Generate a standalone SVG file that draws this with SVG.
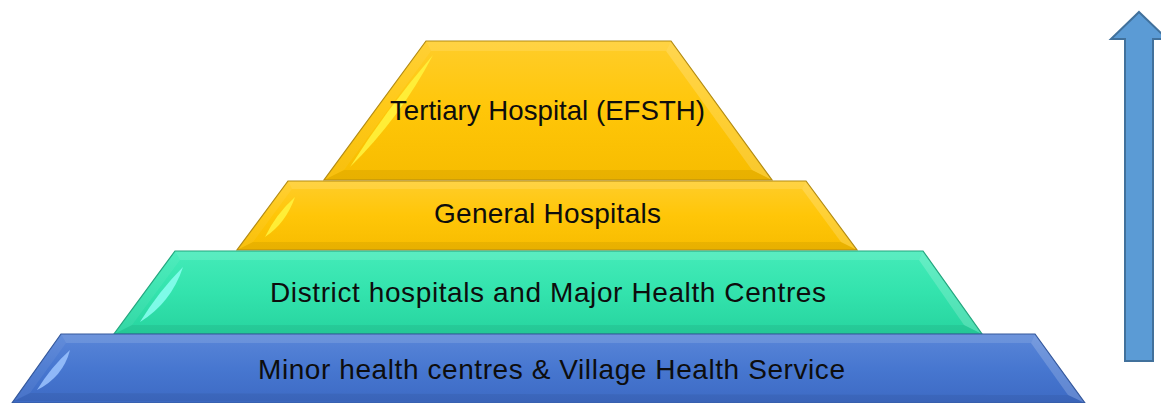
<svg xmlns="http://www.w3.org/2000/svg" width="1161" height="403" viewBox="0 0 1161 403">
  <defs>
    <linearGradient id="gold" x1="0" y1="0" x2="0" y2="1">
      <stop offset="0" stop-color="#FFCD2A"/>
      <stop offset="0.5" stop-color="#FFC608"/>
      <stop offset="1" stop-color="#F7BC00"/>
    </linearGradient>
    <linearGradient id="mint" x1="0" y1="0" x2="0" y2="1">
      <stop offset="0" stop-color="#44EBB9"/>
      <stop offset="0.5" stop-color="#33E3AD"/>
      <stop offset="1" stop-color="#27D49F"/>
    </linearGradient>
    <linearGradient id="cobalt" x1="0" y1="0" x2="0" y2="1">
      <stop offset="0" stop-color="#5A86D8"/>
      <stop offset="0.5" stop-color="#4777D0"/>
      <stop offset="1" stop-color="#3D6AC4"/>
    </linearGradient>
    <style>
      .label { font-family: "Liberation Sans", Arial, sans-serif; font-size: 28px; fill: #0d0d0d; text-anchor: middle; }
      .bev-top { fill: #ffffff; opacity: 0.12; }
      .bev-left { fill: #ffffff; opacity: 0.06; }
      .bev-right { fill: #ffffff; opacity: 0.18; }
      .bev-bottom { fill: #000000; opacity: 0.06; }
      .edge { fill: none; stroke-width: 1.2; stroke-linejoin: miter; }
      .gold-edge { stroke: #B38B12; }
      .mint-edge { stroke: #23A67E; }
      .cobalt-edge { stroke: #34589C; }
      .glint-gold { fill: #FFF23C; opacity: 0.9; }
      .glint-mint { fill: #8CFFF2; opacity: 0.85; }
      .glint-cobalt { fill: #9CC4FF; opacity: 0.85; }
      .arrow { fill: #5B9BD5; stroke: #41719C; stroke-width: 2; stroke-linejoin: miter; }
    </style>
  </defs>

  <!-- Level 4: tertiary hospital -->
  <g id="tier-tertiary">
    <polygon fill="url(#gold)" points="426,41 671,41 772,180 324,180"/>
    <polygon class="bev-top" points="426,41 671,41 666,51 431,51"/>
    <polygon class="bev-left" points="426,41 431,51 344,170 324,180"/>
    <polygon class="bev-right" points="671,41 772,180 752,170 666,51"/>
    <polygon class="bev-bottom" points="324,180 344,170 752,170 772,180"/>
    <path class="glint-gold" d="M433,55 Q400,118 350,167 Q386,110 433,55 Z"/>
    <polygon class="edge gold-edge" points="426,41 671,41 772,180 324,180"/>
    <text class="label" x="547.5" y="120" textLength="315" lengthAdjust="spacingAndGlyphs">Tertiary Hospital (EFSTH)</text>
  </g>

  <!-- Level 3: general hospitals -->
  <g id="tier-general">
    <polygon fill="url(#gold)" points="288,181 806,181 857,250 237,250"/>
    <polygon class="bev-top" points="288,181 806,181 802,189 292,189"/>
    <polygon class="bev-left" points="288,181 292,189 253,242 237,250"/>
    <polygon class="bev-right" points="806,181 857,250 841,242 802,189"/>
    <polygon class="bev-bottom" points="237,250 253,242 841,242 857,250"/>
    <path class="glint-gold" d="M295,197 Q286,223 265,237 Q276,214 295,197 Z"/>
    <polygon class="edge gold-edge" points="288,181 806,181 857,250 237,250"/>
    <text class="label" x="547.5" y="223" textLength="227" lengthAdjust="spacing">General Hospitals</text>
  </g>

  <!-- Level 2: district hospitals -->
  <g id="tier-district">
    <polygon fill="url(#mint)" points="175,251 923,251 982,334 114,334"/>
    <polygon class="bev-top" points="175,251 923,251 919,260 180,260"/>
    <polygon class="bev-left" points="175,251 180,260 132,325 114,334"/>
    <polygon class="bev-right" points="923,251 982,334 964,325 919,260"/>
    <polygon class="bev-bottom" points="114,334 132,325 964,325 982,334"/>
    <path class="glint-mint" d="M183,267 Q171,303 140,322 Q159,291 183,267 Z"/>
    <polygon class="edge mint-edge" points="175,251 923,251 982,334 114,334"/>
    <text class="label" x="548" y="302" textLength="556" lengthAdjust="spacing">District hospitals and Major Health Centres</text>
  </g>

  <!-- Level 1: minor health centres -->
  <g id="tier-minor">
    <polygon fill="url(#cobalt)" points="61,334 1035,334 1085,403 12,403"/>
    <polygon class="bev-top" points="61,334 1035,334 1031,343 66,343"/>
    <polygon class="bev-left" points="61,334 66,343 30,393 14,401"/>
    <polygon class="bev-right" points="1035,334 1085,403 1068,395 1031,343"/>
    <polygon class="bev-bottom" points="14,401 30,393 1068,395 1085,403"/>
    <path class="glint-cobalt" d="M70,350 Q63,377 37,390 Q51,367 70,350 Z"/>
    <polygon class="edge cobalt-edge" points="61,334 1035,334 1085,403 12,403"/>
    <text class="label" x="551.5" y="379" textLength="587" lengthAdjust="spacing">Minor health centres &amp; Village Health Service</text>
  </g>

  <!-- Upward arrow beside the pyramid -->
  <g id="connectors">
    <polygon class="arrow" points="1139,12 1167,39 1153,39 1153,361 1125,361 1125,39 1111,39"/>
  </g>
</svg>
